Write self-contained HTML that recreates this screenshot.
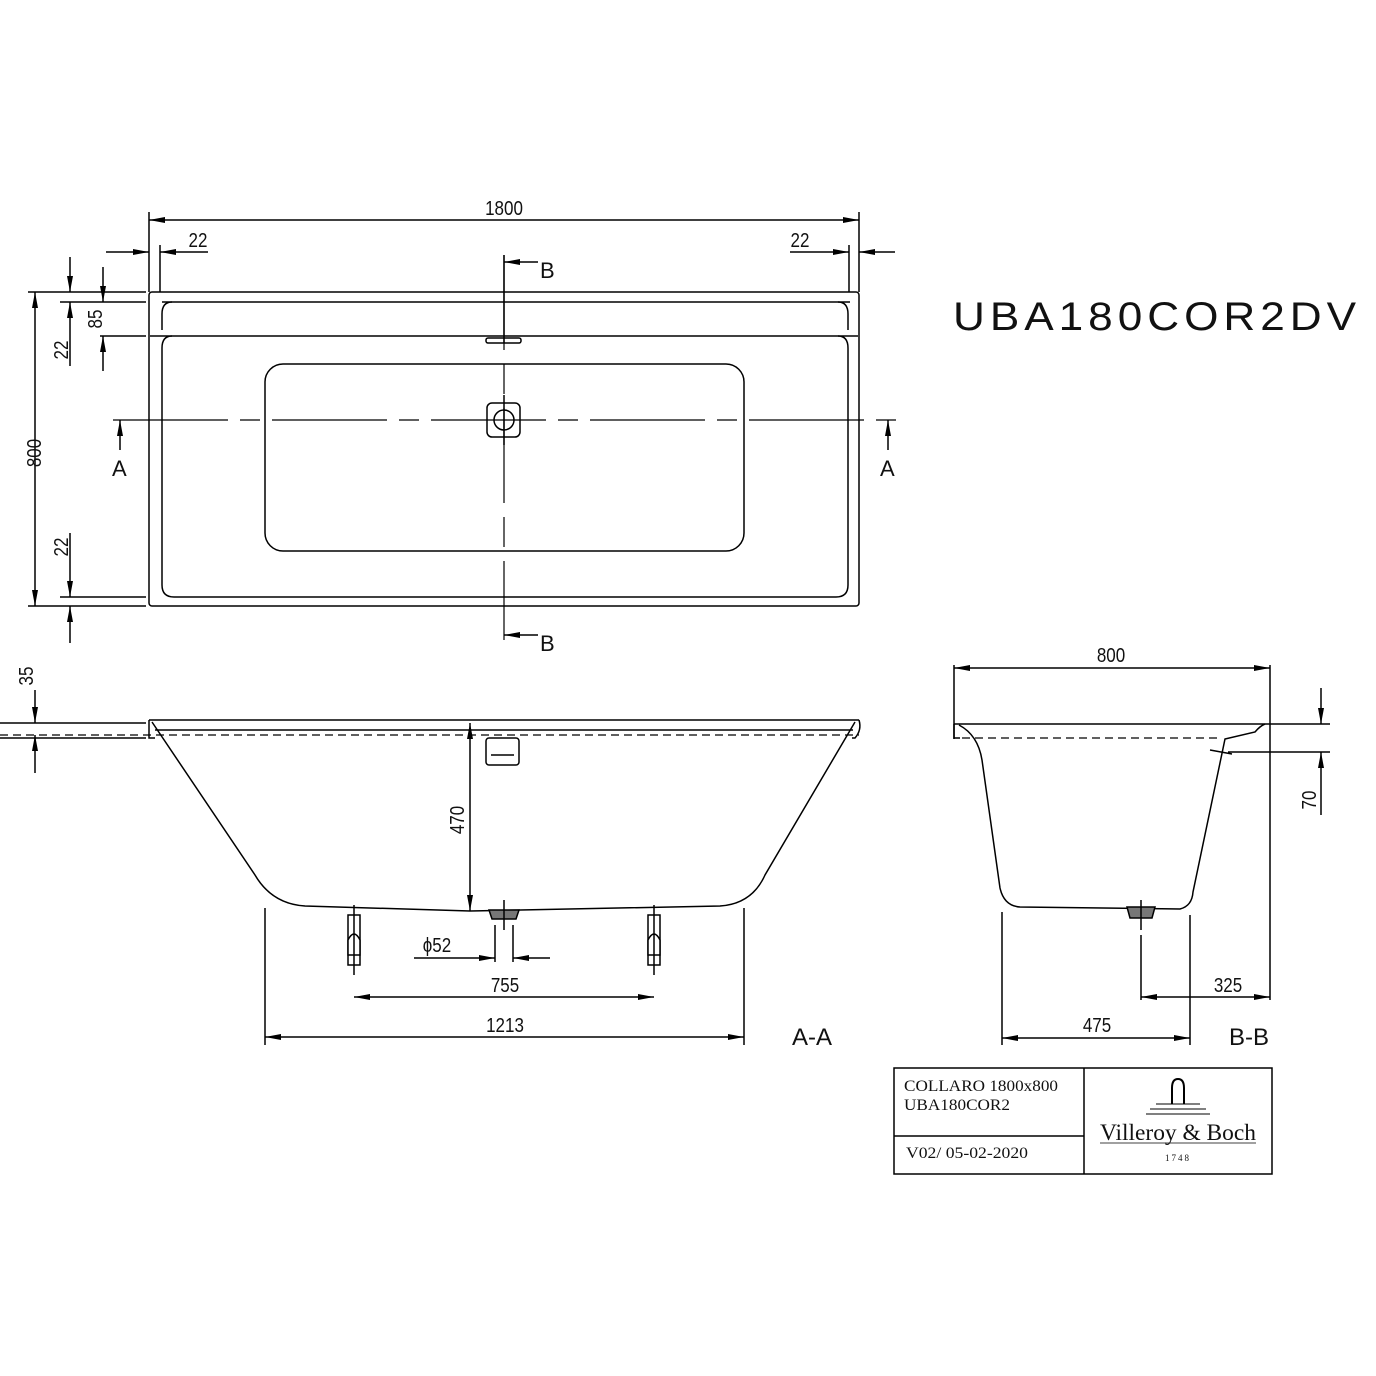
<!DOCTYPE html>
<html><head><meta charset="utf-8"><style>
html,body{margin:0;padding:0;background:#fff}
svg{display:block}
text{font-family:"Liberation Sans",sans-serif;fill:#111}
.d{font-size:20px}
.s{font-family:"Liberation Serif",serif}
</style></head><body>
<svg width="1376" height="1376" viewBox="0 0 1376 1376" xmlns="http://www.w3.org/2000/svg">
<defs>
<marker id="a" viewBox="0 0 16 8" refX="16" refY="4" markerWidth="16" markerHeight="8" markerUnits="userSpaceOnUse" orient="auto-start-reverse"><path d="M0,1 L16,4 L0,7z" fill="#000"/></marker>
</defs>
<g stroke="#000" stroke-width="1.5" fill="none">
<!-- TOP VIEW -->
<rect x="149" y="292" width="710" height="314" rx="3"/>
<path d="M162,302 H850"/>
<path d="M172,302 Q162,302 162,314 V330"/>
<path d="M838,302 Q848,302 848,314 V330"/>
<path d="M150,336 H858"/>
<path d="M172,336 Q162,336 162,348 V585 Q162,597 174,597 H836 Q848,597 848,585 V348 Q848,336 838,336"/>
<rect x="265" y="364" width="479" height="187" rx="18"/>
<rect x="487" y="403" width="33" height="34" rx="5"/>
<circle cx="504" cy="420" r="10"/>
<rect x="486" y="338" width="35" height="5" rx="2"/>
<path d="M113,420 H897" stroke-dasharray="115,12,20,12" stroke-width="1.2"/>
<path d="M504,255 V640" stroke-dasharray="95,14,30,14" stroke-width="1.2"/>
<path d="M504,255 V343 M504,395 V445"/>
<path d="M538,262 H504" marker-end="url(#a)"/>
<path d="M538,635 H504" marker-end="url(#a)"/>
<path d="M120,450 V420" marker-end="url(#a)"/>
<path d="M888,450 V420" marker-end="url(#a)"/>
<!-- 1800 -->
<path d="M149,212 V292 M859,212 V292 M160,245 V292 M849,245 V292"/>
<path d="M149,220 H859" marker-start="url(#a)" marker-end="url(#a)"/>
<path d="M106,252 H149" marker-end="url(#a)"/>
<path d="M208,252 H160" marker-end="url(#a)"/>
<path d="M790,252 H849" marker-end="url(#a)"/>
<path d="M895,252 H859" marker-end="url(#a)"/>
<!-- left dims -->
<path d="M28,292 H146 M28,606 H146 M60,302 H146 M100,336 H146 M60,597 H146"/>
<path d="M35,292 V606" marker-start="url(#a)" marker-end="url(#a)"/>
<path d="M70,257 V292" marker-end="url(#a)"/>
<path d="M70,366 V302" marker-end="url(#a)"/>
<path d="M70,533 V597" marker-end="url(#a)"/>
<path d="M70,643 V606" marker-end="url(#a)"/>
<path d="M103,267 V302" marker-end="url(#a)"/>
<path d="M103,371 V336" marker-end="url(#a)"/>
<!-- A-A SECTION -->
<path d="M149,720 H859"/>
<path d="M155,730 H853"/>
<path d="M0,735 H859" stroke-dasharray="8,5" stroke-width="1.2"/>
<path d="M0,723 H146 M0,738 H146"/>
<path d="M149,720 V738 H155"/>
<path d="M859,720 Q862,730 855,738 H852"/>
<path d="M152,722 L255,875 Q272,904 305,906 L470,911 L720,906 Q752,904 765,875 L855,722"/>
<path d="M470,723 V911" marker-start="url(#a)" marker-end="url(#a)"/>
<rect x="486" y="738" width="33" height="27" rx="3"/>
<path d="M491,755 H514"/>
<path d="M489,910 H519 L516,919 H492z" fill="#777"/>
<path d="M504,900 V930 M495,925 V962 M513,925 V962"/>
<path d="M414,958 H495" marker-end="url(#a)"/>
<path d="M550,958 H513" marker-end="url(#a)"/>
<rect x="348" y="915" width="12" height="50"/>
<path d="M348,940 Q354,928 360,940 V955 H348z" fill="#fff"/>
<rect x="648" y="915" width="12" height="50"/>
<path d="M648,940 Q654,928 660,940 V955 H648z" fill="#fff"/>
<path d="M354,905 V975 M654,905 V975"/>
<path d="M265,908 V1045 M744,908 V1045"/>
<path d="M354,997 H654" marker-start="url(#a)" marker-end="url(#a)"/>
<path d="M265,1037 H744" marker-start="url(#a)" marker-end="url(#a)"/>
<path d="M35,690 V723" marker-end="url(#a)"/>
<path d="M35,773 V735" marker-end="url(#a)"/>
<!-- B-B SECTION -->
<path d="M954,665 V739 M1270,665 V1000"/>
<path d="M954,668 H1270" marker-start="url(#a)" marker-end="url(#a)"/>
<path d="M954,724 H1330"/>
<path d="M954,724 V738 H960"/>
<path d="M962,738 H1222" stroke-dasharray="8,5" stroke-width="1.2"/>
<path d="M959,725 Q978,735 982,760 L1000,888 Q1004,906 1020,907 L1180,909 Q1192,906 1193,892 L1225,739 L1255,732 Q1260,726 1265,724"/>
<path d="M1210,750 L1232,754 M1228,752 H1330"/>
<path d="M1321,688 V724" marker-end="url(#a)"/>
<path d="M1321,815 V752" marker-end="url(#a)"/>
<path d="M1127,907 H1155 L1152,918 H1130z" fill="#777"/>
<path d="M1141,900 V930 M1141,935 V1000 M1002,912 V1045 M1190,915 V1045"/>
<path d="M1141,997 H1270" marker-start="url(#a)" marker-end="url(#a)"/>
<path d="M1002,1038 H1190" marker-start="url(#a)" marker-end="url(#a)"/>
<!-- title block -->
<rect x="894" y="1068" width="378" height="106" stroke-width="1.5"/>
<path d="M1084,1068 V1174 M894,1136 H1084"/>
<path d="M1172,1104 V1088 Q1172,1079 1178,1079 Q1184,1079 1184,1088 V1104" stroke-width="2"/>
<path d="M1156,1104 H1200 M1150,1109 H1206 M1146,1114 H1210" stroke-width="1"/>
<path d="M1100,1143 H1256" stroke-width="0.8"/>
</g>
<!-- labels -->
<g class="d">
<text transform="translate(504,215) scale(0.85,1)" text-anchor="middle">1800</text>
<text transform="translate(198,247) scale(0.85,1)" text-anchor="middle">22</text>
<text transform="translate(800,247) scale(0.85,1)" text-anchor="middle">22</text>
<text x="540" y="278" font-size="22">B</text>
<text x="540" y="651" font-size="22">B</text>
<text x="112" y="476" font-size="22">A</text>
<text x="880" y="476" font-size="22">A</text>
<text transform="translate(41,453) rotate(-90) scale(0.85,1)" text-anchor="middle">800</text>
<text transform="translate(68,350) rotate(-90) scale(0.85,1)" text-anchor="middle">22</text>
<text transform="translate(68,547) rotate(-90) scale(0.85,1)" text-anchor="middle">22</text>
<text transform="translate(102,319) rotate(-90) scale(0.85,1)" text-anchor="middle">85</text>
<text transform="translate(33,676) rotate(-90) scale(0.85,1)" text-anchor="middle">35</text>
<text transform="translate(464,820) rotate(-90) scale(0.85,1)" text-anchor="middle">470</text>
<text transform="translate(437,952) scale(0.85,1)" text-anchor="middle">ϕ52</text>
<text transform="translate(505,992) scale(0.85,1)" text-anchor="middle">755</text>
<text transform="translate(505,1032) scale(0.85,1)" text-anchor="middle">1213</text>
<text x="812" y="1045" text-anchor="middle" font-size="24">A-A</text>
<text transform="translate(1111,662) scale(0.85,1)" text-anchor="middle">800</text>
<text transform="translate(1316,800) rotate(-90) scale(0.85,1)" text-anchor="middle">70</text>
<text transform="translate(1228,992) scale(0.85,1)" text-anchor="middle">325</text>
<text transform="translate(1097,1032) scale(0.85,1)" text-anchor="middle">475</text>
<text x="1249" y="1045" text-anchor="middle" font-size="24">B-B</text>
</g>
<text x="953" y="330" font-size="40" letter-spacing="4.5" textLength="408" lengthAdjust="spacingAndGlyphs">UBA180COR2DV</text>
<text class="s" x="904" y="1091" font-size="16" textLength="154" lengthAdjust="spacingAndGlyphs">COLLARO 1800x800</text>
<text class="s" x="904" y="1110" font-size="16" textLength="106" lengthAdjust="spacingAndGlyphs">UBA180COR2</text>
<text class="s" x="906" y="1158" font-size="16" textLength="122" lengthAdjust="spacingAndGlyphs">V02/ 05-02-2020</text>
<text class="s" x="1178" y="1140" font-size="23" text-anchor="middle" textLength="156" lengthAdjust="spacingAndGlyphs">Villeroy &amp; Boch</text>
<text class="s" x="1178" y="1161" font-size="9" text-anchor="middle" letter-spacing="2">1748</text>
</svg>
</body></html>
